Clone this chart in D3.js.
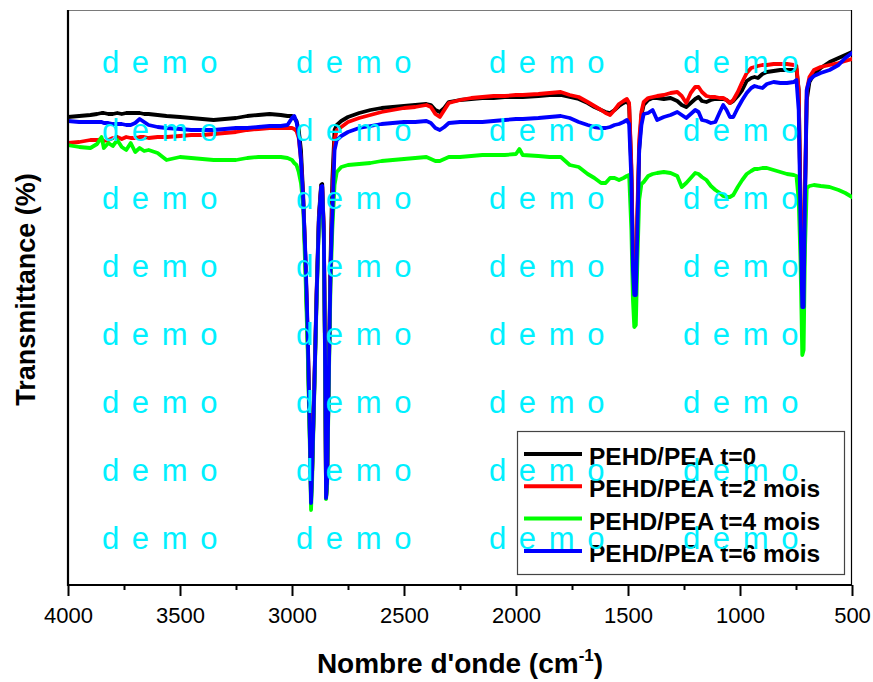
<!DOCTYPE html>
<html>
<head>
<meta charset="utf-8">
<script src="https://cdn.jsdelivr.net/npm/d3@7"></script>
<style>
  html, body { margin: 0; padding: 0; background: #fff; }
  svg { display: block; font-family: "Liberation Sans", Arial, sans-serif; }
</style>
</head>
<body>
<svg id="chart" width="873" height="682"></svg>
<script>
// FTIR spectra of PEHD/PEA films after 0, 2, 4 and 6 months
const wavenumbers = [
  4000, 3950, 3900, 3870, 3850, 3840, 3820, 3800, 3780, 3760, 3740, 3720, 3700, 3680, 3660, 3640,
  3600, 3560, 3500, 3450, 3400, 3350, 3300, 3250, 3200, 3150, 3100, 3050, 3020, 3000, 2990, 2980,
  2970, 2960, 2950, 2940, 2930, 2920, 2915, 2910, 2900, 2890, 2880, 2870, 2865, 2858, 2852, 2848,
  2843, 2835, 2828, 2820, 2810, 2800, 2780, 2750, 2700, 2650, 2600, 2550, 2500, 2450, 2400, 2380,
  2360, 2340, 2320, 2300, 2250, 2200, 2150, 2100, 2050, 2000, 1985, 1970, 1900, 1850, 1800, 1760,
  1720, 1680, 1650, 1620, 1600, 1580, 1560, 1540, 1520, 1505, 1495, 1485, 1478, 1472, 1465, 1458,
  1450, 1440, 1430, 1410, 1390, 1370, 1340, 1310, 1280, 1260, 1240, 1220, 1200, 1185, 1170, 1150,
  1130, 1110, 1090, 1075, 1060, 1045, 1030, 1010, 990, 970, 950, 935, 920, 900, 880, 850,
  820, 790, 760, 748, 738, 730, 722, 716, 710, 702, 690, 670, 640, 600, 560, 530, 500
];

const tMonth0 = [
  83.6, 83.8, 84.0, 84.2, 84.4, 84.4, 84.2, 84.2, 84.4, 84.2, 84.4, 84.4, 84.4, 84.4, 84.2, 84.2,
  84.0, 83.8, 83.6, 83.4, 83.2, 83.0, 83.2, 83.4, 83.8, 84.0, 84.2, 84.0, 83.8, 83.8, 83.4, 82.8,
  81.0, 77.0, 68.0, 55.0, 39.0, 19.0, 7.0, 13.0, 31.0, 49.0, 64.0, 70.0, 70.2, 61.0, 35.0, 7.4,
  11.0, 35.0, 55.0, 71.0, 81.0, 82.0, 82.8, 83.6, 84.4, 85.0, 85.4, 85.6, 85.8, 86.0, 86.2, 86.0,
  85.0, 84.6, 85.4, 86.6, 87.0, 87.2, 87.4, 87.4, 87.6, 87.6, 87.6, 87.6, 87.8, 88.0, 88.0, 87.6,
  87.2, 86.4, 85.6, 85.0, 84.6, 84.4, 85.0, 85.8, 86.4, 86.8, 86.0, 73.0, 55.0, 48.6, 48.6, 63.0,
  77.0, 84.0, 86.0, 87.0, 87.4, 87.4, 87.2, 87.4, 86.8, 86.0, 85.6, 86.4, 87.2, 87.6, 86.8, 86.6,
  87.0, 87.2, 87.2, 87.2, 87.0, 86.4, 86.8, 87.8, 89.0, 90.8, 91.4, 91.6, 91.4, 92.2, 92.6, 92.8,
  93.0, 93.0, 93.0, 93.2, 89.0, 67.0, 46.0, 46.0, 67.0, 87.0, 90.6, 92.2, 93.4, 94.6, 95.4, 96.0, 96.6
];

const tMonth2 = [
  78.4, 78.6, 79.0, 79.0, 79.2, 78.8, 79.0, 79.4, 79.6, 79.2, 79.6, 79.4, 79.4, 79.6, 79.6, 79.4,
  79.6, 79.6, 79.8, 80.0, 80.0, 80.2, 80.4, 80.6, 81.0, 81.2, 81.4, 81.4, 81.4, 81.4, 81.2, 80.8,
  79.4, 75.0, 67.0, 55.0, 40.0, 21.0, 8.0, 13.0, 30.0, 48.0, 63.0, 69.6, 69.6, 61.0, 35.0, 7.4,
  11.0, 34.0, 53.0, 67.0, 79.0, 81.0, 81.6, 82.6, 83.4, 84.0, 84.6, 85.0, 85.4, 85.6, 86.0, 85.6,
  84.2, 83.6, 85.0, 86.4, 87.0, 87.4, 87.6, 87.8, 87.8, 88.0, 88.0, 88.0, 88.2, 88.4, 88.6, 88.0,
  87.6, 86.6, 85.8, 85.0, 84.4, 84.0, 85.0, 86.2, 86.8, 87.2, 86.4, 74.0, 56.0, 49.0, 49.0, 65.0,
  79.0, 84.6, 86.6, 87.4, 87.6, 87.8, 88.0, 88.4, 88.6, 87.8, 86.4, 88.4, 89.6, 89.6, 88.6, 87.8,
  87.6, 87.6, 87.4, 87.4, 87.0, 86.4, 87.0, 88.6, 90.6, 92.4, 93.4, 93.6, 93.8, 94.0, 94.0, 94.2,
  94.2, 94.2, 94.0, 93.8, 89.0, 67.0, 46.0, 47.0, 69.0, 89.0, 91.6, 93.0, 93.6, 94.0, 94.4, 94.8, 95.2
];

const tMonth4 = [
  78.0, 77.6, 77.4, 78.2, 79.6, 77.4, 78.4, 77.8, 79.0, 77.6, 77.0, 78.4, 76.6, 77.4, 76.8, 77.0,
  76.4, 75.0, 75.6, 75.4, 75.2, 75.0, 75.0, 75.0, 75.4, 75.6, 75.6, 75.6, 75.4, 75.0, 74.4, 74.0,
  72.6, 70.4, 66.0, 52.0, 37.0, 17.0, 5.0, 11.0, 29.0, 47.0, 62.0, 68.0, 68.0, 59.0, 33.0, 7.2,
  10.0, 32.0, 50.0, 61.0, 70.0, 72.6, 73.6, 74.0, 74.2, 74.4, 74.8, 75.0, 75.2, 75.4, 75.6, 75.2,
  74.8, 74.8, 75.2, 75.6, 75.6, 75.8, 76.0, 76.0, 76.0, 76.2, 77.2, 76.0, 75.8, 75.6, 75.6, 74.0,
  73.6, 72.2, 71.4, 70.4, 70.4, 71.4, 71.4, 71.0, 71.4, 71.8, 72.0, 61.0, 47.0, 41.6, 42.0, 55.0,
  67.0, 70.2, 70.6, 71.8, 72.2, 72.4, 72.6, 72.4, 71.8, 69.6, 70.4, 71.4, 72.4, 72.2, 71.6, 71.0,
  69.8, 69.0, 68.4, 67.8, 67.6, 67.6, 68.0, 69.6, 71.0, 72.2, 72.8, 73.2, 73.2, 73.4, 73.4, 73.0,
  72.6, 72.2, 72.0, 71.8, 67.0, 55.0, 36.0, 37.0, 57.0, 69.4, 69.8, 70.0, 69.8, 69.6, 69.0, 68.4, 67.6
];

const tMonth6 = [
  82.8, 82.6, 82.6, 82.6, 82.6, 82.4, 82.4, 82.2, 82.2, 82.2, 82.0, 82.0, 82.4, 83.2, 82.6, 82.0,
  81.6, 81.4, 81.2, 81.0, 81.0, 81.0, 81.2, 81.4, 81.4, 81.6, 81.8, 81.8, 82.0, 83.4, 83.8, 82.6,
  80.0, 75.0, 67.0, 56.0, 41.0, 19.0, 6.4, 13.0, 30.0, 48.0, 63.0, 69.6, 69.8, 60.4, 33.6, 7.4,
  11.0, 33.6, 53.0, 64.0, 77.0, 79.0, 79.8, 80.6, 81.4, 81.8, 82.2, 82.4, 82.6, 82.6, 82.8, 82.4,
  81.4, 81.0, 81.6, 82.4, 82.6, 82.6, 82.6, 82.8, 83.0, 83.2, 83.2, 83.2, 83.4, 83.6, 83.8, 83.4,
  82.6, 82.0, 81.6, 81.4, 81.4, 81.6, 82.0, 82.2, 82.6, 83.0, 82.2, 71.0, 53.0, 48.0, 48.0, 61.0,
  77.0, 82.0, 84.2, 84.4, 85.0, 83.0, 83.6, 84.0, 84.6, 84.0, 83.4, 84.2, 85.0, 84.6, 83.0, 82.8,
  82.4, 82.6, 84.6, 86.0, 85.0, 83.6, 83.6, 85.4, 87.0, 88.4, 89.4, 89.8, 89.6, 89.4, 90.2, 90.6,
  90.4, 90.4, 90.6, 91.0, 85.0, 63.0, 45.6, 45.6, 67.0, 89.0, 91.0, 91.8, 92.4, 93.0, 94.0, 95.4, 96.4
];

const seriesNames = ["PEHD/PEA t=0", "PEHD/PEA t=2 mois", "PEHD/PEA t=4 mois", "PEHD/PEA t=6 mois"];
const seriesColors = ["#000000", "#ff0000", "#00ff00", "#0000ff"];
const seriesValues = [tMonth0, tMonth2, tMonth4, tMonth6];

const majorTicks = [4000, 3500, 3000, 2500, 2000, 1500, 1000, 500];
const minorTicks = [3750, 3250, 2750, 2250, 1750, 1250, 750];

const margin = { left: 68, right: 21, top: 10, bottom: 97 };
const W = 873, H = 682;
const plotW = W - margin.left - margin.right;
const plotH = H - margin.top - margin.bottom;

const svg = d3.select("#chart");

const x = d3.scaleLinear().domain([4000, 500]).range([margin.left, margin.left + plotW]);
const y = d3.scaleLinear().domain([-10, 105]).range([margin.top + plotH, margin.top]);

svg.append("defs").append("clipPath").attr("id", "plotClip")
  .append("rect")
  .attr("x", margin.left).attr("y", margin.top)
  .attr("width", plotW).attr("height", plotH);

// frame: thin top/right, thick left/bottom
svg.append("line")
  .attr("x1", margin.left).attr("x2", margin.left + plotW)
  .attr("y1", margin.top + 0.5).attr("y2", margin.top + 0.5)
  .attr("stroke", "#7a7a7a").attr("stroke-width", 1);
svg.append("line")
  .attr("x1", margin.left + plotW - 0.5).attr("x2", margin.left + plotW - 0.5)
  .attr("y1", margin.top).attr("y2", margin.top + plotH)
  .attr("stroke", "#000").attr("stroke-width", 1.2);

// spectra
const line = d3.line()
  .x(d => x(d[0]))
  .y(d => y(d[1]));

const gLines = svg.append("g").attr("clip-path", "url(#plotClip)");
seriesValues.forEach((vals, i) => {
  const pts = wavenumbers.map((w, k) => [w, vals[k]]);
  gLines.append("path")
    .datum(pts)
    .attr("d", line)
    .attr("fill", "none")
    .attr("stroke", seriesColors[i])
    .attr("stroke-width", 3.8)
    .attr("stroke-linejoin", "round")
    .attr("stroke-linecap", "round");
});

// x axis
const xAxis = d3.axisBottom(x)
  .tickValues(majorTicks)
  .tickSize(11)
  .tickPadding(11)
  .tickFormat(d3.format("d"));
const gx = svg.append("g")
  .attr("transform", `translate(0,${margin.top + plotH})`)
  .call(xAxis);
gx.select(".domain").remove();
gx.selectAll(".tick line").attr("stroke", "#000").attr("stroke-width", 2);
gx.selectAll(".tick text")
  .attr("fill", "#000")
  .style("font-size", "22px")
  .style("font-family", "'Liberation Sans', Arial, sans-serif");

const xMinor = d3.axisBottom(x).tickValues(minorTicks).tickSize(5).tickFormat("");
const gxm = svg.append("g")
  .attr("transform", `translate(0,${margin.top + plotH})`)
  .call(xMinor);
gxm.select(".domain").remove();
gxm.selectAll(".tick line").attr("stroke", "#000").attr("stroke-width", 2);

// thick left and bottom axis lines
svg.append("line")
  .attr("x1", margin.left - 1).attr("x2", margin.left + plotW)
  .attr("y1", margin.top + plotH).attr("y2", margin.top + plotH)
  .attr("stroke", "#000").attr("stroke-width", 2.2);
svg.append("line")
  .attr("x1", margin.left).attr("x2", margin.left)
  .attr("y1", margin.top).attr("y2", margin.top + plotH + 1)
  .attr("stroke", "#000").attr("stroke-width", 2.2);

// axis titles
const xTitle = svg.append("text")
  .attr("x", margin.left + plotW / 2)
  .attr("y", 673)
  .attr("text-anchor", "middle")
  .style("font-size", "28px")
  .style("font-weight", "bold");
xTitle.append("tspan").text("Nombre d'onde (cm");
xTitle.append("tspan").attr("dy", -12).style("font-size", "17px").text("-1");
xTitle.append("tspan").attr("dy", 12).text(")");

svg.append("text")
  .attr("transform", `translate(35,${margin.top + plotH / 2 - 8}) rotate(-90)`)
  .attr("text-anchor", "middle")
  .style("font-size", "27px")
  .style("font-weight", "bold")
  .text("Transmittance (%)");

// legend
const lg = svg.append("g");
lg.append("rect")
  .attr("x", 517.5).attr("y", 431.5)
  .attr("width", 327).attr("height", 143)
  .attr("fill", "#fff")
  .attr("stroke", "#444").attr("stroke-width", 1.2);
seriesNames.forEach((name, i) => {
  const yy = 454 + i * 32.3;
  lg.append("line")
    .attr("x1", 524).attr("x2", 582)
    .attr("y1", yy).attr("y2", yy)
    .attr("stroke", seriesColors[i]).attr("stroke-width", 4);
  lg.append("text")
    .attr("x", 589).attr("y", yy + 11)
    .style("font-size", "24.5px")
    .style("font-weight", "bold")
    .attr("fill", "#000")
    .text(name);
});

// repeated "demo" marks over the plot
const markCols = [102, 296, 489, 683];
const markRows = [73, 141, 209, 277, 345, 413, 481, 549];
const gMarks = svg.append("g");
markRows.forEach(r => markCols.forEach(c => {
  gMarks.append("text")
    .attr("x", c).attr("y", r)
    .attr("fill", "#00f0ff")
    .style("font-size", "31px")
    .style("letter-spacing", "2px")
    .style("white-space", "pre")
    .text("d e m o");
}));
</script>
</body>
</html>
